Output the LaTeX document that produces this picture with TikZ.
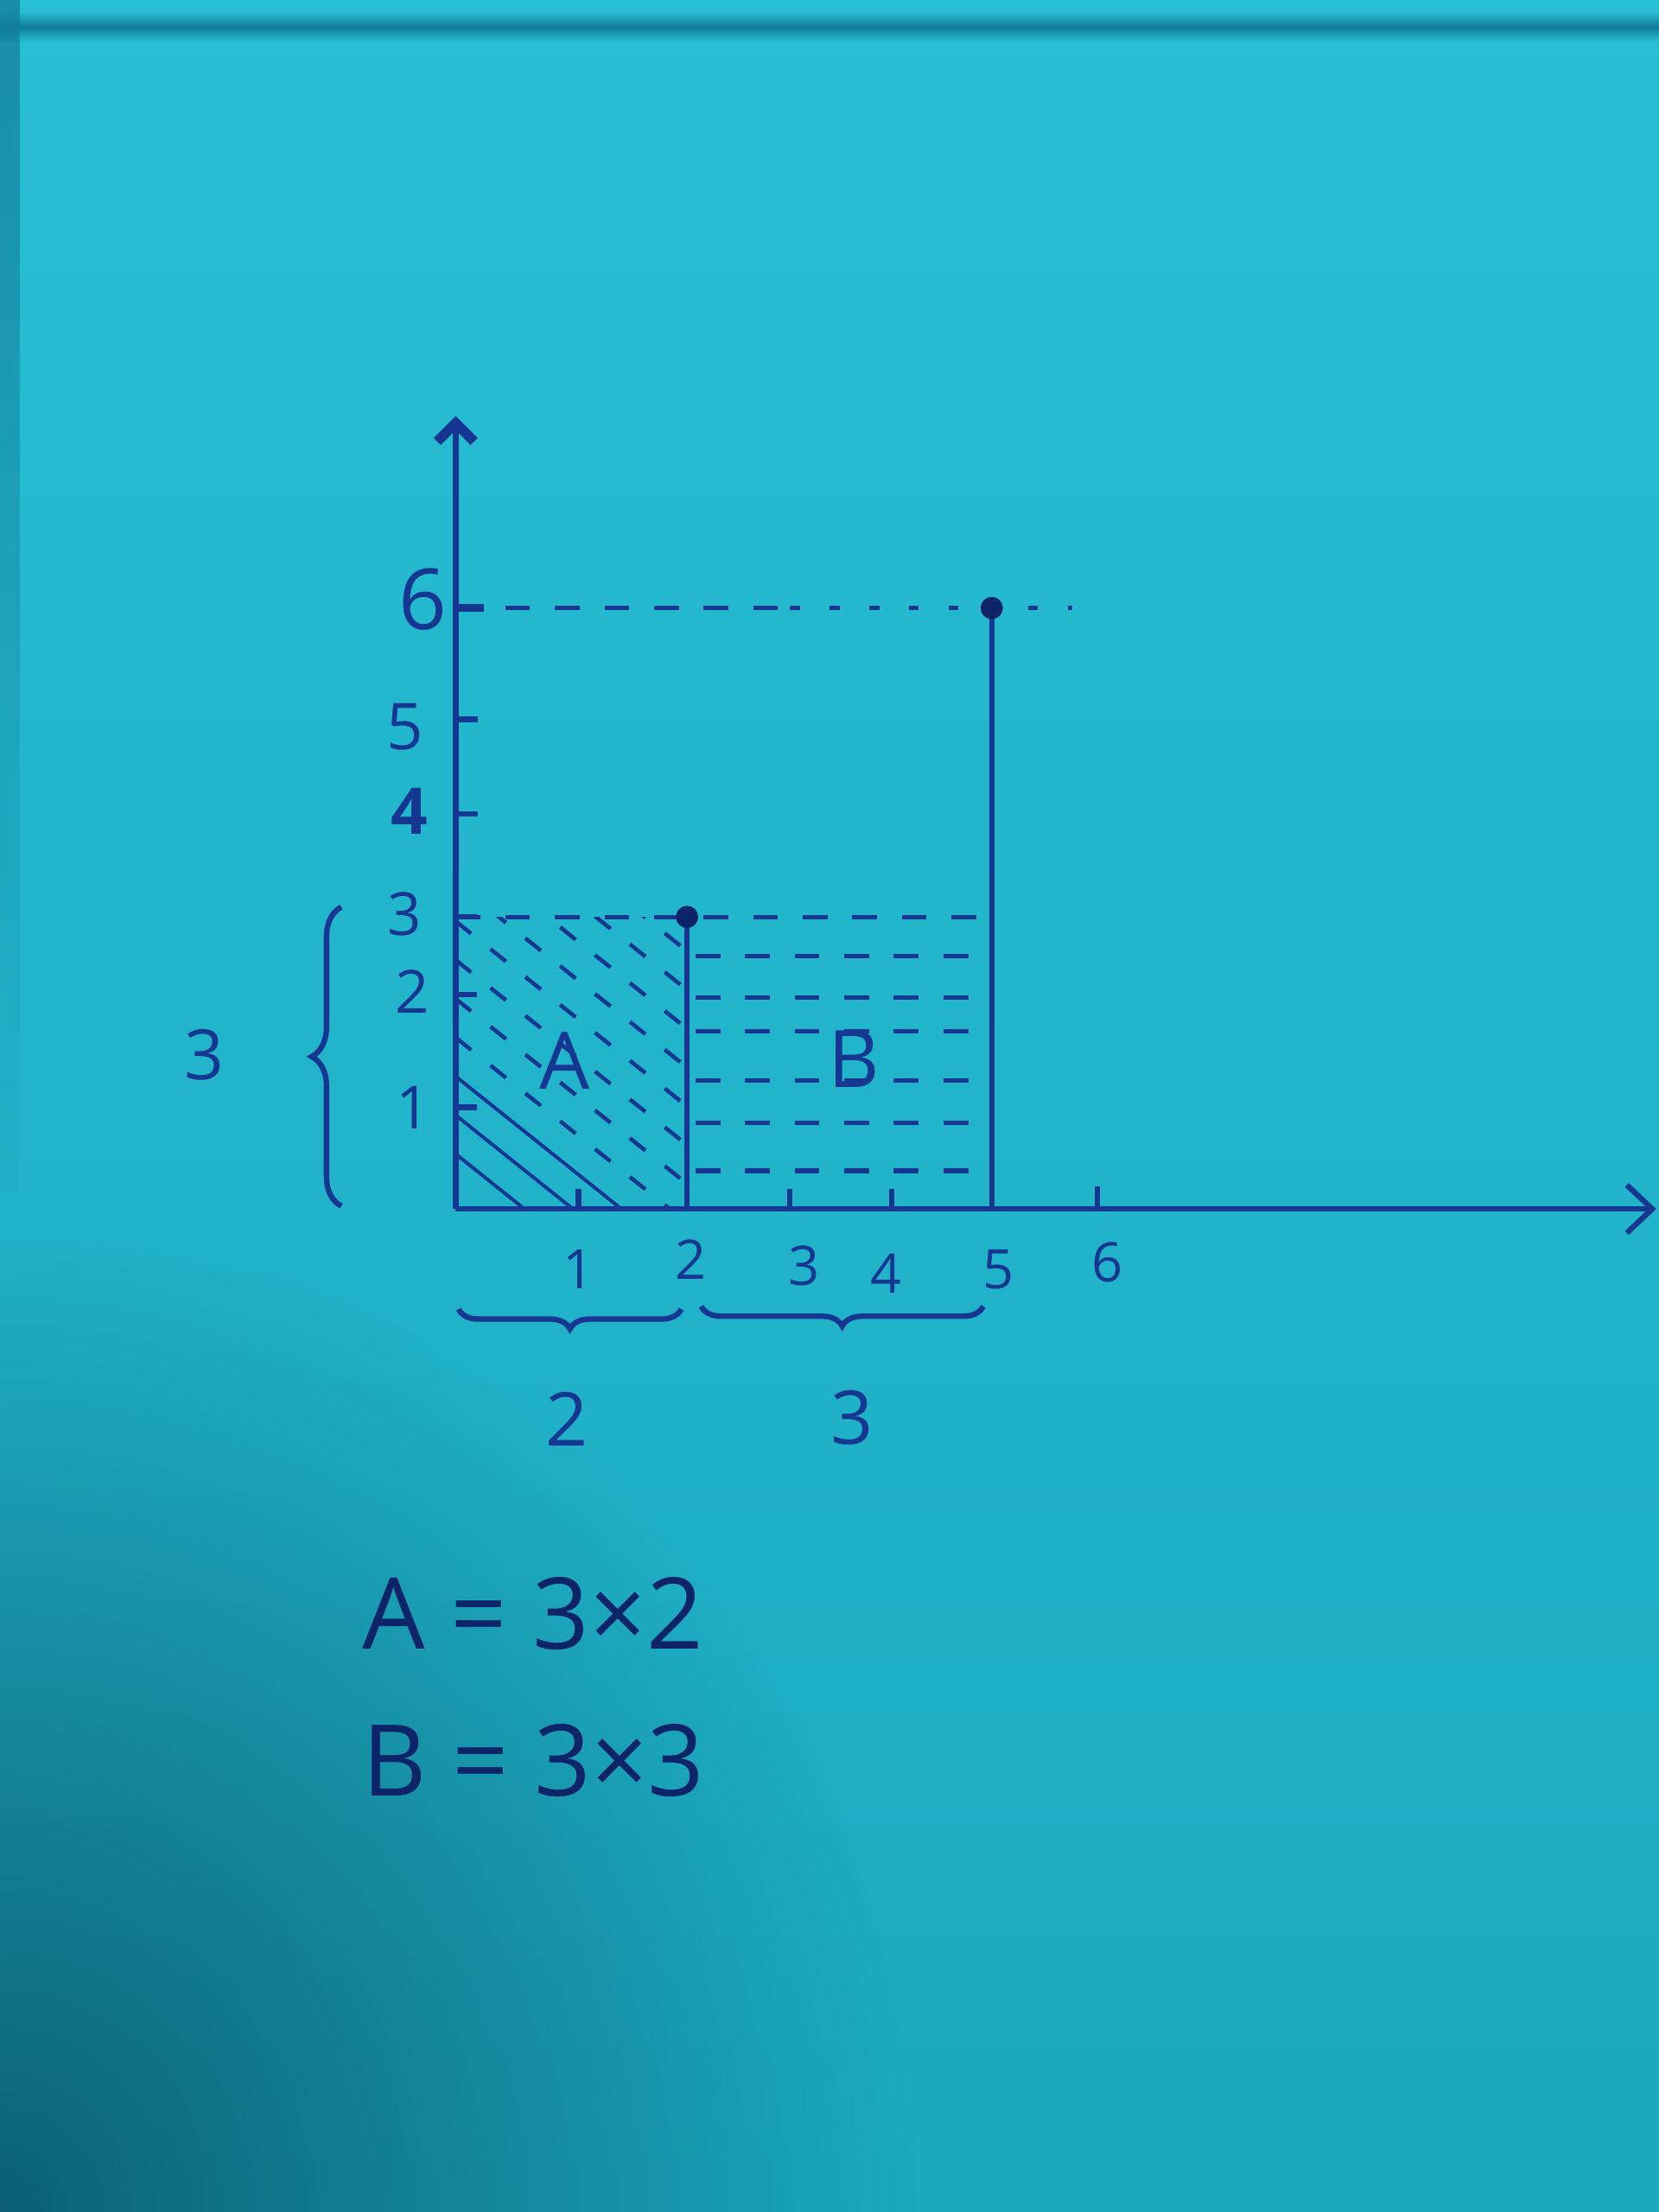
\documentclass[tikz,border=0pt]{standalone}
\usepackage{fontspec}
\setmainfont{Open Sans}
\usetikzlibrary{arrows.meta,positioning,calc,decorations.pathreplacing,fadings}
\definecolor{papertop}{RGB}{40,190,212}
\definecolor{paperlow}{RGB}{26,170,192}
\definecolor{shadowc}{RGB}{8,76,96}
\definecolor{bandc}{RGB}{18,125,155}
\definecolor{ink}{RGB}{22,55,145}
\definecolor{inkdark}{RGB}{14,36,105}
\tikzfading[name=shadowfade, inner color=transparent!22, outer color=transparent!100]
\tikzfading[name=edgefade, top color=transparent!25, bottom color=transparent!100]
\tikzset{
  axisline/.style={ink, line width=1.1pt},
  tickline/.style={ink, line width=1.1pt},
  edgeline/.style={ink, line width=1.1pt},
  guideline/.style={ink, line width=0.9pt, dash pattern=on 5pt off 5pt},
  dotguide/.style={ink, line width=0.9pt, dash pattern=on 2pt off 6pt},
  hatchsolid/.style={ink, line width=0.7pt},
  hatchdash/.style={ink, line width=0.8pt, dash pattern=on 4pt off 5pt},
  bracepen/.style={ink, line width=1.1pt, decorate, decoration={brace, amplitude=#1}},
  dotn/.style={circle, fill=inkdark, minimum size=4.5pt, inner sep=0pt},
  ticklabel/.style={ink, inner sep=0pt, font=\fontsize{11}{13}\selectfont},
  sidelabel/.style={ink, inner sep=0pt, font=\fontsize{15}{18}\selectfont},
  regionlabel/.style={ink, inner sep=0pt, font=\fontsize{16}{19}\selectfont},
  formula/.style={inkdark, inner sep=0pt, anchor=west, font=\fontsize{20}{24}\selectfont},
}

\begin{document}
\begin{tikzpicture}
  \useasboundingbox (0,0) rectangle (11.76,15.68);
  \shade[top color=papertop, bottom color=paperlow] (0,0) rectangle (11.76,15.68);
  \fill[shadowc, path fading=shadowfade] (0,0) ellipse (6.5 and 7);
  \shade[top color=papertop, bottom color=papertop, middle color=bandc] (0,15.38) rectangle (11.76,15.60);
  \fill[bandc, path fading=edgefade] (0,7) rectangle (0.14,15.68);

  \coordinate (O)    at (3.23,7.11);
  \coordinate (Ytop) at (3.23,12.73);
  \coordinate (Xend) at (11.74,7.11);

  \coordinate (x1) at (4.10,7.11);
  \coordinate (x2) at (4.87,7.11);
  \coordinate (x3) at (5.60,7.11);
  \coordinate (x4) at (6.32,7.11);
  \coordinate (x5) at (7.03,7.11);
  \coordinate (x6) at (7.78,7.11);

  \coordinate (y1) at (3.23,7.83);
  \coordinate (y2) at (3.23,8.63);
  \coordinate (y3) at (3.23,9.18);
  \coordinate (y4) at (3.23,9.91);
  \coordinate (y5) at (3.23,10.58);
  \coordinate (y6) at (3.23,11.37);

  \coordinate (C2) at (x2 |- y3);
  \coordinate (C5) at (x5 |- y3);
  \coordinate (P6) at (x5 |- y6);
  \coordinate (G6) at (5.60,11.37);
  \coordinate (G6end) at (7.60,11.37);

  \begin{scope}
    \clip (O) rectangle (C2);
    \foreach \k in {0,1,2}
      \draw[hatchsolid] ($(O)+(0,0.39+0.275*\k)$) -- ++(4,-3.2);
    \foreach \k in {3,...,10}
      \draw[hatchdash] ($(O)+(0,0.39+0.275*\k)$) -- ++(4,-3.2);
  \end{scope}

  \foreach \h in {0.27,0.61,0.91,1.26,1.50,1.79}
    \draw[guideline] ($(x2)+(0.06,\h)$) -- ($(x5)+(-0.06,\h)$);

  \draw[guideline] (y3) -- (C5);
  \draw[guideline] (y6) -- (G6);
  \draw[dotguide] (G6) -- (G6end);

  \draw[edgeline] (x2) -- (C2);
  \draw[edgeline] (x5) -- (P6);

  \draw[axisline, -{Straight Barb[length=1.8mm, width=3.4mm]}] (O) -- (Xend);
  \draw[axisline, -{Straight Barb[length=1.3mm, width=2.6mm, line width=2pt]}] (O) -- (Ytop);

  \draw[tickline] (x1) -- ++(0,0.14);
  \draw[tickline] (x3) -- ++(0,0.14);
  \draw[tickline] (x4) -- ++(0,0.14);
  \draw[tickline] (x6) -- ++(0,0.16);
  \draw[tickline] (y1) -- ++(0.15,0);
  \draw[tickline] (y2) -- ++(0.15,0);
  \draw[tickline] (y3) -- ++(0.15,0);
  \draw[tickline] (y4) -- ++(0.16,0);
  \draw[tickline] (y5) -- ++(0.16,0);
  \draw[tickline, line width=1.5pt] (y6) -- ++(0.20,0);

  \node[dotn] (dC2) at (C2) {};
  \node[dotn] (dP6) at (P6) {};

  \node[ticklabel] (lx1) at (4.10,6.68) {1};
  \node[ticklabel] (lx2) at (4.90,6.75) {2};
  \node[ticklabel] (lx3) at (5.70,6.71) {3};
  \node[ticklabel] (lx4) at (6.28,6.65) {4};
  \node[ticklabel] (lx5) at (7.08,6.68) {5};
  \node[ticklabel] (lx6) at (7.85,6.73) {6};

  \node[ticklabel, font=\fontsize{12}{14}\selectfont] (ly1) at (2.93,7.83) {1};
  \node[ticklabel, font=\fontsize{12}{14}\selectfont] (ly2) at (2.92,8.65) {2};
  \node[ticklabel, font=\fontsize{12}{14}\selectfont] (ly3) at (2.87,9.20) {3};
  \node[ticklabel, font=\fontsize{13}{15}\selectfont\bfseries] (ly4) at (2.90,9.93) {4};
  \node[ticklabel, font=\fontsize{13}{15}\selectfont] (ly5) at (2.87,10.53) {5};
  \node[ticklabel, font=\fontsize{17}{20}\selectfont] (ly6) at (3.00,11.43) {6};

  \node[regionlabel] (lA) at (4.00,8.16) {A};
  \node[regionlabel] (lB) at (6.05,8.17) {B};

  \draw[bracepen=6pt] (2.42,7.13) -- (2.42,9.25);
  \node[sidelabel, font=\fontsize{14}{17}\selectfont] (lh3) at (1.45,8.20) {3};

  \draw[bracepen=4pt] (4.83,6.40) -- (3.25,6.40);
  \draw[bracepen=4pt] (6.97,6.42) -- (4.97,6.42);
  \node[sidelabel] (lw2) at (4.02,5.62) {2};
  \node[sidelabel] (lw3) at (6.04,5.63) {3};

  \node[formula] (fA) at (2.56,4.24) {A = 3×2};
  \node[formula] (fB) at (2.56,3.20) {B = 3×3};
\end{tikzpicture}
\end{document}
